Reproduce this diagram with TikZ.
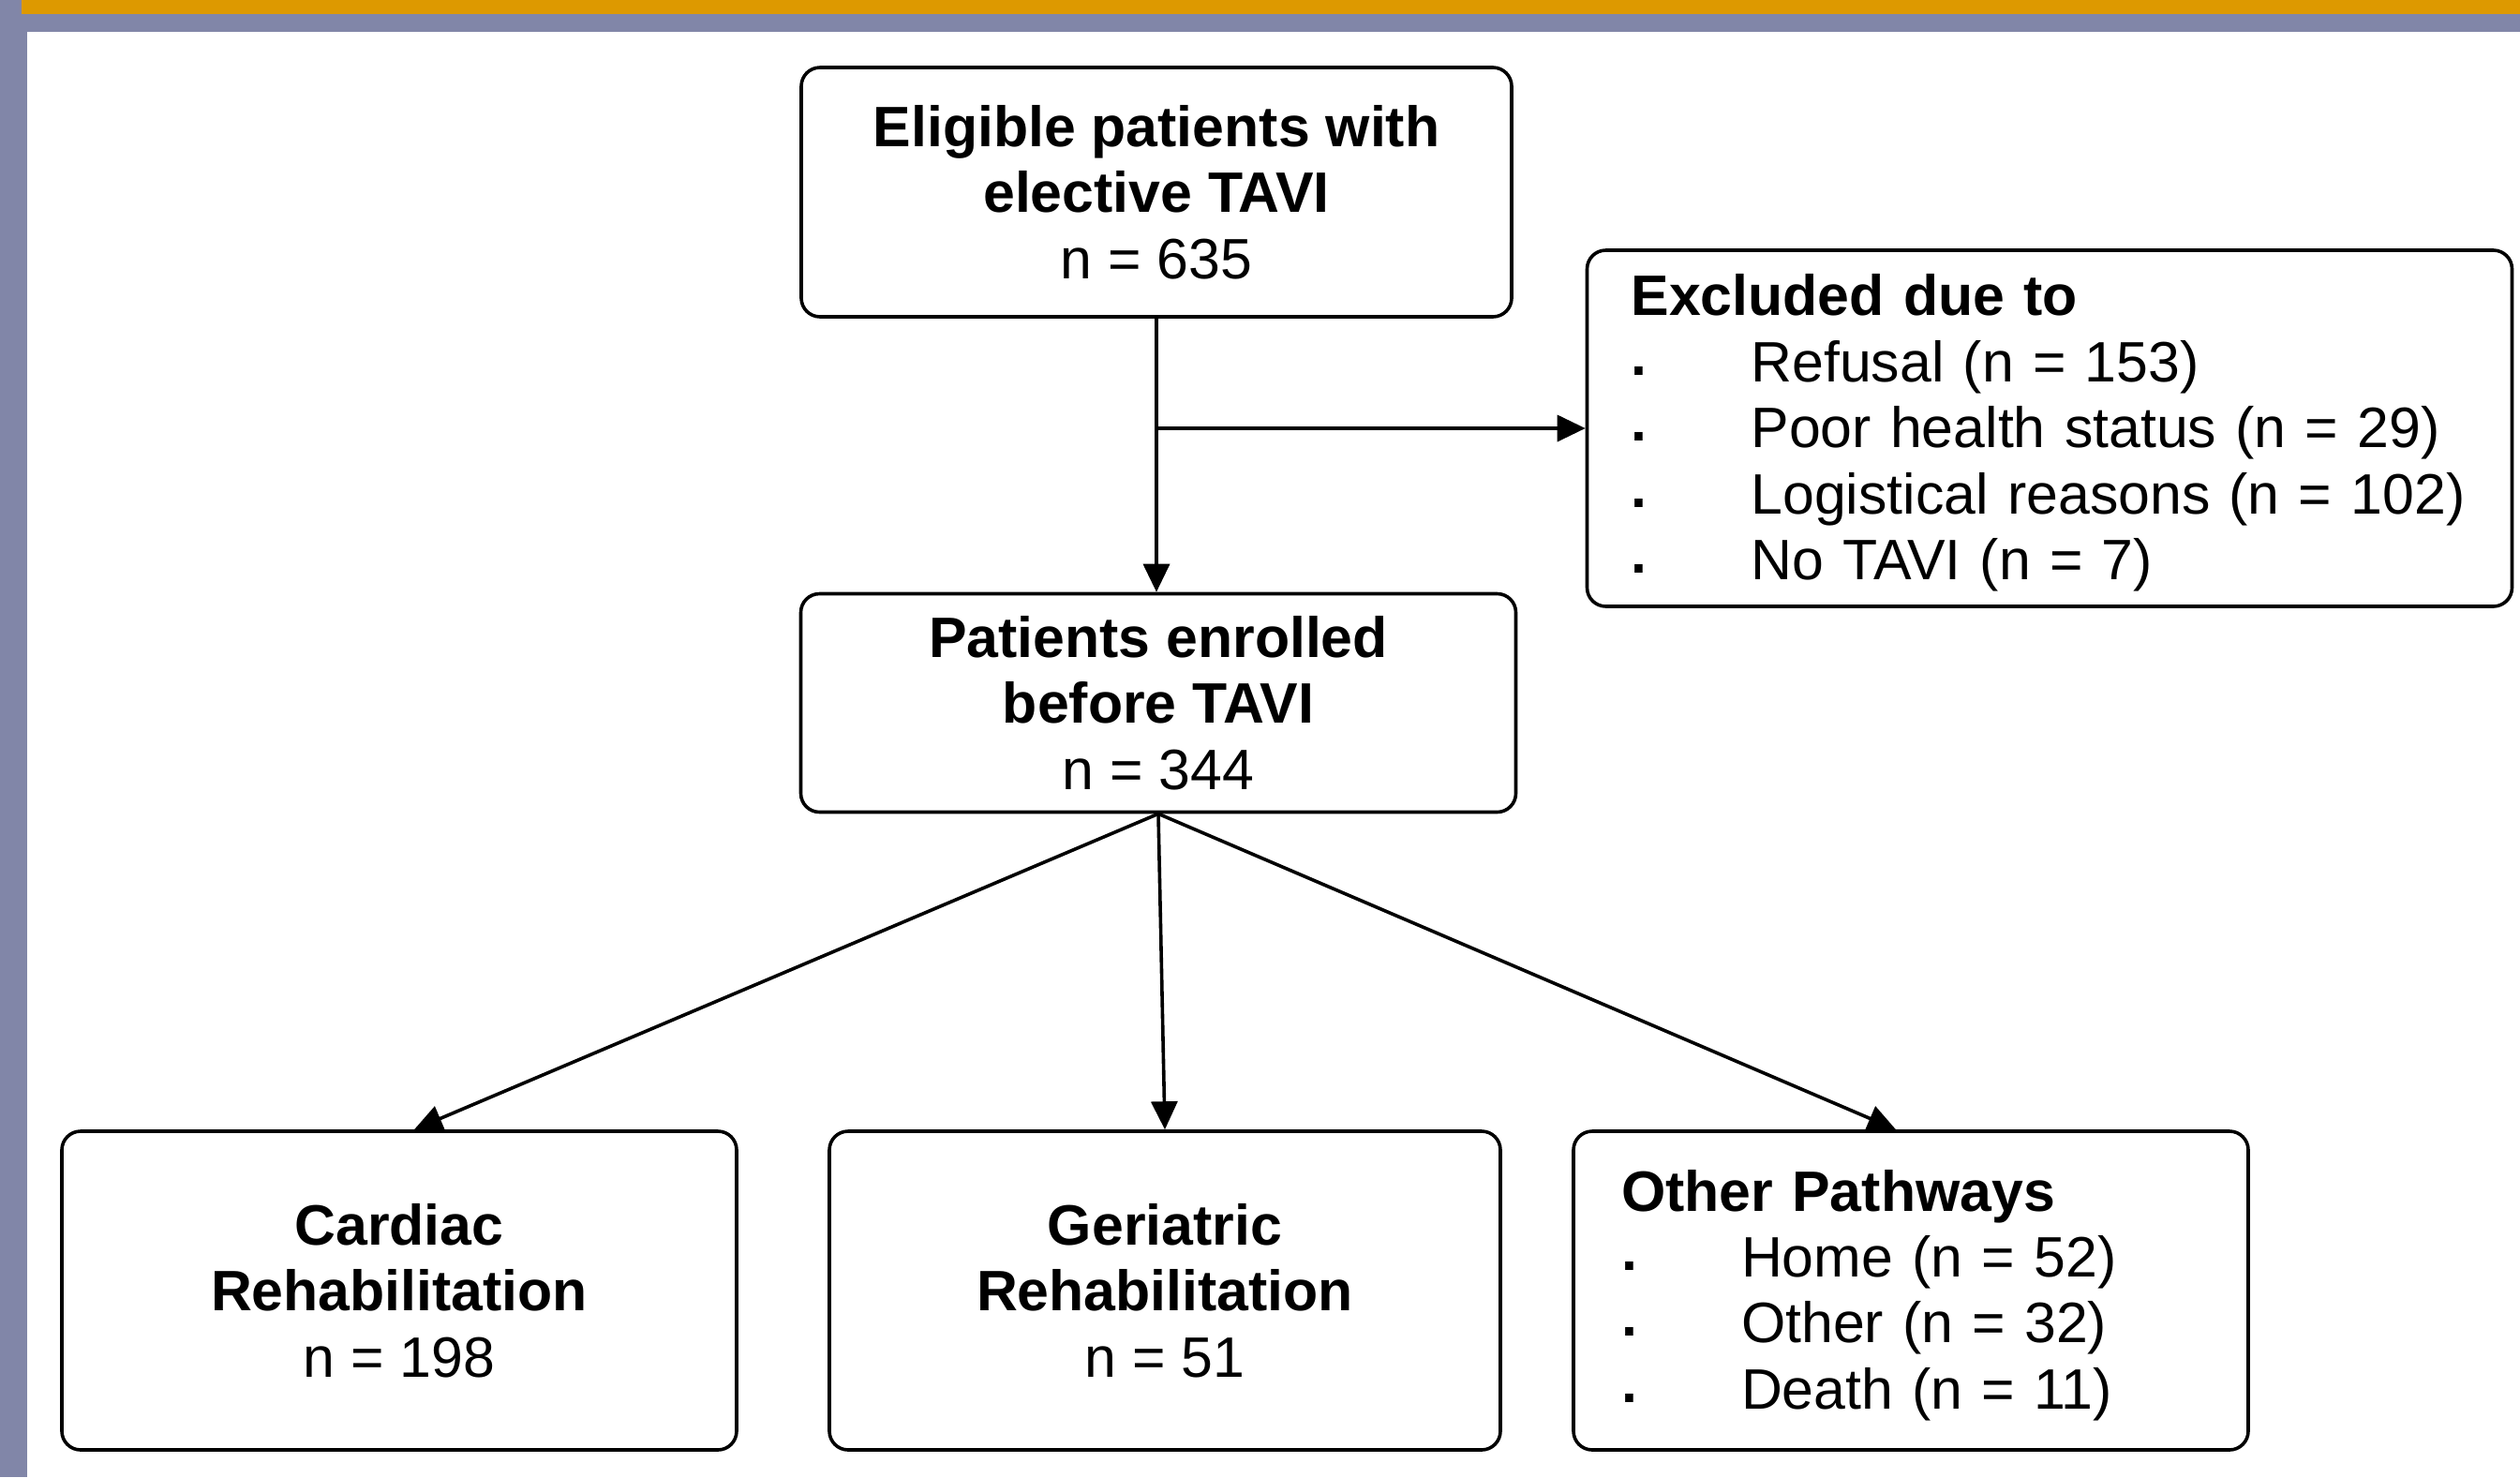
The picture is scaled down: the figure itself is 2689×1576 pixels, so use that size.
\documentclass[tikz,border=0pt]{standalone}
\usepackage{fontspec}
\setmainfont{Liberation Sans}
\usetikzlibrary{arrows.meta}

\definecolor{bandorange}{RGB}{221,153,0}
\definecolor{bandgrey}{RGB}{129,134,168}

\newcommand{\itemdot}{\makebox[64pt][l]{\raisebox{3.5pt}{\textbf{.}}}}
\newcommand{\liststrut}{\rule{0pt}{27pt}}

\begin{document}
\begin{tikzpicture}[x=0.5pt,y=-0.5pt,
  flowbox/.style={draw=black,line width=1.8pt,rounded corners=10pt,fill=white,
    inner sep=0pt,font=\fontsize{30.4}{35.2}\selectfont},
  centrebox/.style={flowbox,align=center},
  listbox/.style={flowbox,align=left},
  flowarrow/.style={line width=1.8pt,-{Triangle[length=15pt,width=14pt]}}
]

\useasboundingbox (0,0) rectangle (2689,1576);
\fill[white] (0,0) rectangle (2689,1576);
\fill[bandgrey] (0,0) rectangle (29,1576);
\fill[bandgrey] (0,15) rectangle (2689,34);
\fill[bandorange] (23,0) rectangle (2689,15);

\node[centrebox,minimum width=379pt,minimum height=133pt] (elig) at (1234,205)
  {\textbf{Eligible patients with}\\\textbf{elective TAVI}\\n = 635};
\node[centrebox,minimum width=381.5pt,minimum height=116.5pt] (enrol) at (1236,750)
  {\textbf{Patients enrolled}\\\textbf{before TAVI}\\n = 344};
\node[listbox,text width=446.5pt,inner xsep=23.5pt,minimum height=190pt] (excl) at (2187,457)
  {\liststrut\textbf{Excluded due to}\\
   \itemdot Refusal (n = 153)\\
   \itemdot Poor health status (n = 29)\\
   \itemdot \mbox{Logistical reasons (n = 102)}\\
   \itemdot No TAVI (n = 7)};

\node[centrebox,minimum width=360pt,minimum height=170pt] (card) at (426,1377)
  {\textbf{Cardiac}\\\textbf{Rehabilitation}\\n = 198};
\node[centrebox,minimum width=358pt,minimum height=170pt] (geri) at (1243,1377)
  {\textbf{Geriatric}\\\textbf{Rehabilitation}\\n = 51};
\node[listbox,text width=309pt,inner xsep=25.5pt,minimum height=170pt] (other) at (2039,1377)
  {\liststrut\textbf{Other Pathways}\\
   \itemdot Home (n = 52)\\
   \itemdot Other (n = 32)\\
   \itemdot Death (n = 11)};

\draw[flowarrow] (elig.south) -- (elig.south |- enrol.north);
\draw[flowarrow] (elig.south |- excl.west) -- (excl.west);
\draw[flowarrow] (enrol.south) -- ([xshift=8pt]card.north);
\draw[flowarrow] (enrol.south) -- (geri.north);
\draw[flowarrow] (enrol.south) -- ([xshift=-8pt]other.north);
\end{tikzpicture}
\end{document}
